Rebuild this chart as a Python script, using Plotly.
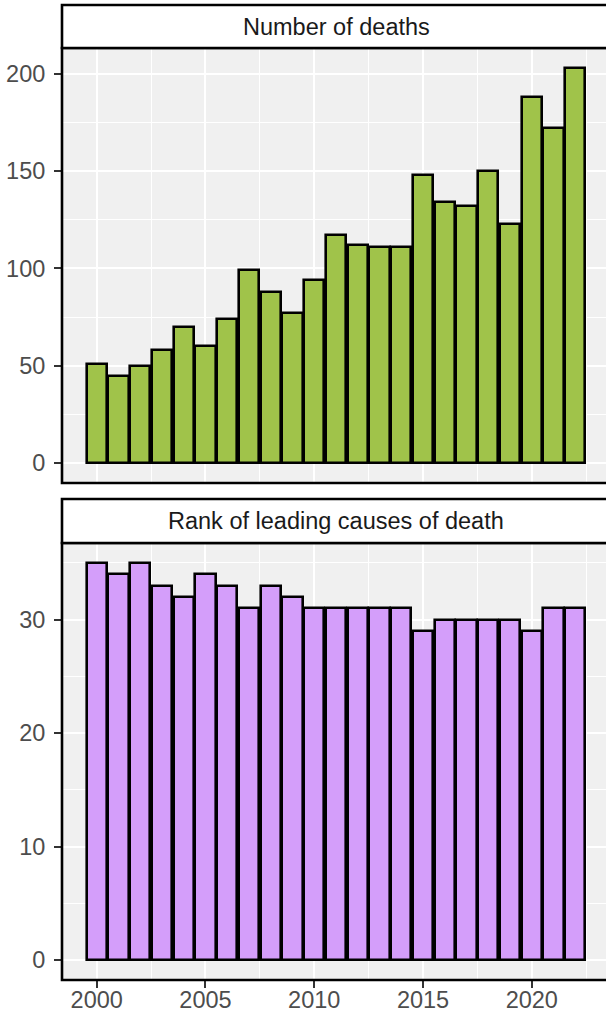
import plotly.graph_objects as go

years = list(range(2000, 2023))
deaths = [51, 45, 50, 58, 70, 60, 74, 99, 88, 77, 94, 117, 112, 111, 111,
          148, 134, 132, 150, 123, 188, 172, 203]
rank = [35, 34, 35, 33, 32, 34, 33, 31, 33, 32, 31, 31, 31, 31, 31,
        29, 30, 30, 30, 30, 29, 31, 31]
panel_titles = ["Number of deaths", "Rank of leading causes of death"]
x_ticks = [2000, 2005, 2010, 2015, 2020]

GREEN = "#A0C34A"
PURPLE = "#D49EFA"
BG = "#F0F0F0"
FONT = "Liberation Sans, Arial, sans-serif"
FS = 23.5

W, H = 606, 1014
ML, MB = 62, 34
PH = H - MB  # plot area height (t=0)

def dom(top_px, bot_px):
    return [1 - bot_px / PH, 1 - top_px / PH]

# x range: ggplot expansion of bar extents, cropped at the page right edge
lo, hi = years[0] - 0.45, years[-1] + 0.45
ex = (hi - lo) * 0.05
x0 = lo - ex
x1full = hi + ex
ppu = (610 - ML) / (x1full - x0)
x1 = x0 + (W - ML) / ppu

def yr(vals):
    m = max(vals)
    return [-0.05 * m, m * 1.05]

fig = go.Figure()
fig.add_trace(go.Bar(x=years, y=deaths, width=0.93, xaxis="x", yaxis="y",
                     marker=dict(color=GREEN, line=dict(color="black", width=2.6)),
                     showlegend=False))
fig.add_trace(go.Bar(x=years, y=rank, width=0.93, xaxis="x2", yaxis="y2",
                     marker=dict(color=PURPLE, line=dict(color="black", width=2.6)),
                     showlegend=False))

top_dom = dom(48, 483)
bot_dom = dom(543, 980)

common_x = dict(range=[x0, x1], tickvals=x_ticks, showgrid=True, gridcolor="white",
                gridwidth=2, zeroline=False, showline=False, automargin=False,
                minor=dict(dtick=2.5, tick0=2000, showgrid=True, gridcolor="white", gridwidth=1),
                tickfont=dict(family=FONT, size=FS, color="#4D4D4D"))
common_y = dict(showgrid=True, gridcolor="white", gridwidth=2, zeroline=False,
                showline=False, ticks="outside", ticklen=7, tickcolor="#333333",
                tickwidth=2, ticklabelstandoff=4, automargin=False,
                tickfont=dict(family=FONT, size=FS, color="#4D4D4D"))

fig.update_layout(
    width=W, height=H, margin=dict(l=ML, r=0, t=0, b=MB, autoexpand=False),
    paper_bgcolor="white", plot_bgcolor=BG, bargap=0,
    xaxis=dict(common_x, domain=[0, 1], anchor="y", showticklabels=False, ticks=""),
    yaxis=dict(common_y, domain=top_dom, anchor="x", range=yr(deaths),
               tickvals=[0, 50, 100, 150, 200],
               minor=dict(tickvals=[25, 75, 125, 175], showgrid=True, gridcolor="white", gridwidth=1)),
    xaxis2=dict(common_x, domain=[0, 1], anchor="y2", ticks="outside", ticklen=7,
                tickcolor="#333333", tickwidth=2, ticklabelstandoff=-8),
    yaxis2=dict(common_y, domain=bot_dom, anchor="x2", range=yr(rank),
                tickvals=[0, 10, 20, 30],
                minor=dict(tickvals=[5, 15, 25, 35], showgrid=True, gridcolor="white", gridwidth=1)),
)

shapes = []
annotations = []
for title, (pt, pb), (st, sb) in [
    (panel_titles[0], (48, 483), (5, 48)),
    (panel_titles[1], (543, 980), (499, 543)),
]:
    shapes.append(dict(type="rect", xref="paper", yref="paper", x0=0, x1=1.05,
                       y0=1 - pb / PH, y1=1 - pt / PH,
                       line=dict(color="black", width=2.6), fillcolor="rgba(0,0,0,0)",
                       layer="above"))
    shapes.append(dict(type="rect", xref="paper", yref="paper", x0=0, x1=1.05,
                       y0=1 - sb / PH, y1=1 - st / PH,
                       line=dict(color="black", width=2.6), fillcolor="white"))
    annotations.append(dict(text=title, xref="paper", yref="paper",
                            x=(336 - ML) / (W - ML), y=1 - (st + sb) / 2 / PH,
                            xanchor="center", yanchor="middle", showarrow=False,
                            font=dict(family=FONT, size=FS, color="#1A1A1A")))

fig.update_layout(shapes=shapes, annotations=annotations)
fig.write_html("out.html", config={"displayModeBar": False},
               post_script="document.body.style.margin='0';document.body.style.overflow='hidden';")
